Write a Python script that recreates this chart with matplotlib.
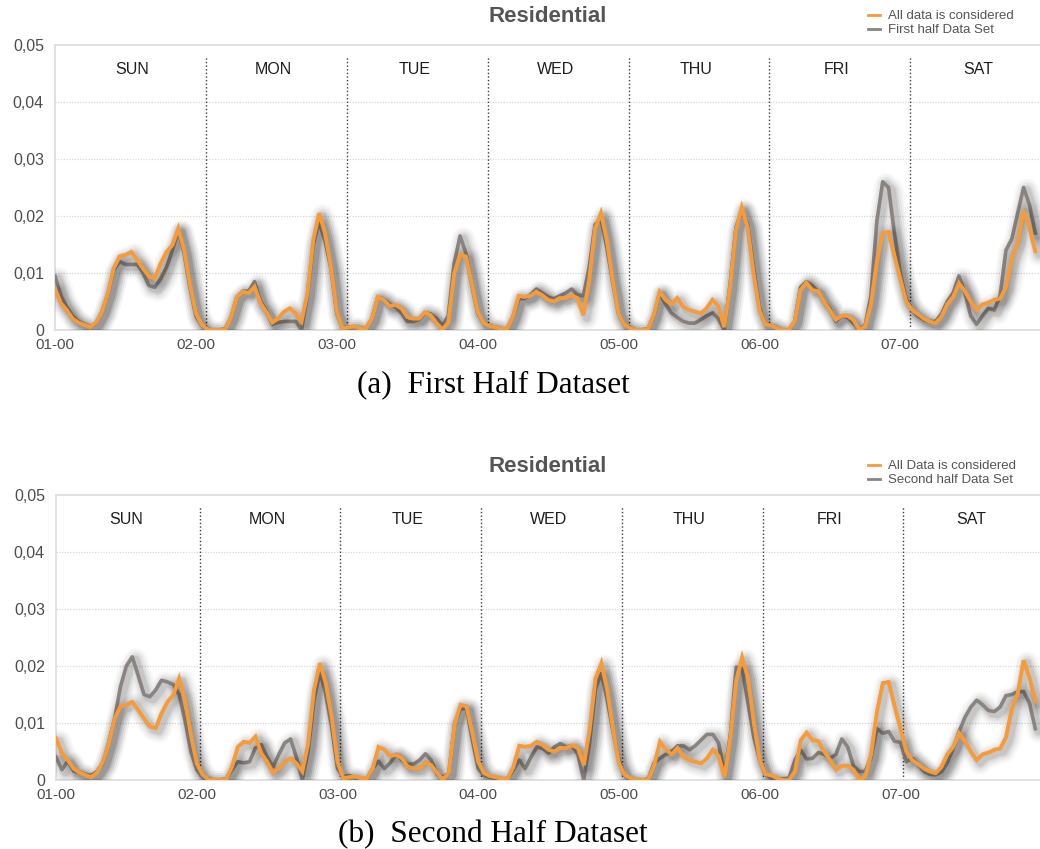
import numpy as np
import matplotlib
matplotlib.use("Agg")
import matplotlib.pyplot as plt
import matplotlib.patheffects as pe

# Hourly average load profile over one week (Sunday 00h .. Saturday 23h)
hours = np.arange(168)

all_data = [
    # SUN
    0.0073, 0.0047, 0.0035, 0.0020, 0.0013, 0.0009, 0.0005, 0.0013, 0.0032, 0.0064,
    0.0108, 0.0129, 0.0132, 0.0137, 0.0123, 0.0108, 0.0094, 0.0091, 0.0117, 0.0137,
    0.0149, 0.0178, 0.0140, 0.0079, 0.0029, 0.0009,
    # MON
    0.0001, 0.0000, 0.0000, 0.0001, 0.0023, 0.0058, 0.0067, 0.0065, 0.0076, 0.0047,
    0.0032, 0.0013, 0.0020, 0.0032, 0.0038, 0.0029, 0.0015, 0.0064, 0.0158, 0.0205,
    0.0170, 0.0111, 0.0032, 0.0003,
    # TUE
    0.0005, 0.0006, 0.0003, 0.0003, 0.0020, 0.0058, 0.0053, 0.0042, 0.0044, 0.0038,
    0.0023, 0.0020, 0.0020, 0.0031, 0.0026, 0.0012, 0.0001, 0.0013, 0.0099, 0.0132,
    0.0129, 0.0082, 0.0032, 0.0012,
    # WED
    0.0007, 0.0005, 0.0002, 0.0002, 0.0023, 0.0060, 0.0058, 0.0060, 0.0067, 0.0061,
    0.0053, 0.0050, 0.0056, 0.0056, 0.0061, 0.0056, 0.0026, 0.0088, 0.0178, 0.0205,
    0.0158, 0.0088, 0.0029, 0.0009,
    # THU
    0.0003, 0.0000, 0.0000, 0.0001, 0.0026, 0.0067, 0.0053, 0.0045, 0.0056, 0.0041,
    0.0035, 0.0032, 0.0029, 0.0038, 0.0053, 0.0042, 0.0005, 0.0075, 0.0175, 0.0215,
    0.0180, 0.0100, 0.0035, 0.0010,
    # FRI
    0.0008, 0.0003, 0.0000, 0.0000, 0.0015, 0.0070, 0.0083, 0.0070, 0.0068, 0.0050,
    0.0035, 0.0018, 0.0025, 0.0025, 0.0018, 0.0000, 0.0006, 0.0045, 0.0120, 0.0170,
    0.0172, 0.0130, 0.0090, 0.0050,
    # SAT
    0.0035, 0.0028, 0.0020, 0.0015, 0.0012, 0.0023, 0.0045, 0.0058, 0.0082, 0.0068,
    0.0050, 0.0035, 0.0045, 0.0048, 0.0053, 0.0055, 0.0075, 0.0125, 0.0152, 0.0210,
    0.0180, 0.0138,
]

first_half = [
    # SUN
    0.0095, 0.0060, 0.0040, 0.0025, 0.0015, 0.0010, 0.0005, 0.0012, 0.0032, 0.0063,
    0.0105, 0.0120, 0.0115, 0.0115, 0.0115, 0.0100, 0.0078, 0.0075, 0.0090, 0.0110,
    0.0140, 0.0175, 0.0135, 0.0075, 0.0025, 0.0008,
    # MON
    0.0001, 0.0000, 0.0000, 0.0002, 0.0023, 0.0058, 0.0068, 0.0068, 0.0085, 0.0050,
    0.0035, 0.0010, 0.0013, 0.0015, 0.0015, 0.0015, 0.0000, 0.0060, 0.0150, 0.0190,
    0.0155, 0.0110, 0.0030, 0.0004,
    # TUE
    0.0005, 0.0006, 0.0003, 0.0003, 0.0020, 0.0058, 0.0053, 0.0045, 0.0040, 0.0030,
    0.0015, 0.0015, 0.0018, 0.0030, 0.0028, 0.0020, 0.0008, 0.0025, 0.0117, 0.0165,
    0.0135, 0.0080, 0.0030, 0.0012,
    # WED
    0.0007, 0.0005, 0.0002, 0.0002, 0.0023, 0.0055, 0.0055, 0.0062, 0.0072, 0.0065,
    0.0058, 0.0055, 0.0060, 0.0065, 0.0072, 0.0062, 0.0060, 0.0110, 0.0185, 0.0195,
    0.0145, 0.0085, 0.0030, 0.0009,
    # THU
    0.0003, 0.0000, 0.0000, 0.0002, 0.0025, 0.0065, 0.0045, 0.0030, 0.0022, 0.0015,
    0.0012, 0.0012, 0.0018, 0.0025, 0.0030, 0.0020, 0.0000, 0.0080, 0.0180, 0.0210,
    0.0185, 0.0110, 0.0040, 0.0010,
    # FRI
    0.0008, 0.0003, 0.0000, 0.0000, 0.0015, 0.0075, 0.0085, 0.0078, 0.0068, 0.0050,
    0.0038, 0.0015, 0.0025, 0.0022, 0.0012, 0.0000, 0.0008, 0.0060, 0.0190, 0.0260,
    0.0250, 0.0170, 0.0100, 0.0055,
    # SAT
    0.0035, 0.0025, 0.0018, 0.0015, 0.0015, 0.0028, 0.0050, 0.0065, 0.0095, 0.0065,
    0.0025, 0.0010, 0.0025, 0.0038, 0.0035, 0.0060, 0.0140, 0.0160, 0.0205, 0.0250,
    0.0220, 0.0170,
]

second_half = [
    # SUN
    0.0040, 0.0018, 0.0033, 0.0016, 0.0013, 0.0010, 0.0008, 0.0015, 0.0030, 0.0066,
    0.0108, 0.0164, 0.0200, 0.0216, 0.0184, 0.0150, 0.0146, 0.0158, 0.0175, 0.0172,
    0.0167, 0.0150, 0.0105, 0.0050, 0.0018, 0.0005,
    # MON
    0.0002, 0.0000, 0.0000, 0.0002, 0.0018, 0.0032, 0.0030, 0.0032, 0.0056, 0.0062,
    0.0040, 0.0023, 0.0045, 0.0065, 0.0072, 0.0040, 0.0000, 0.0050, 0.0140, 0.0190,
    0.0150, 0.0094, 0.0020, 0.0006,
    # TUE
    0.0008, 0.0004, 0.0002, 0.0002, 0.0020, 0.0033, 0.0020, 0.0030, 0.0045, 0.0035,
    0.0028, 0.0028, 0.0035, 0.0046, 0.0035, 0.0010, 0.0005, 0.0012, 0.0100, 0.0125,
    0.0125, 0.0070, 0.0020, 0.0008,
    # WED
    0.0005, 0.0003, 0.0002, 0.0002, 0.0018, 0.0035, 0.0020, 0.0040, 0.0058, 0.0055,
    0.0047, 0.0058, 0.0064, 0.0058, 0.0060, 0.0045, 0.0000, 0.0065, 0.0160, 0.0187,
    0.0140, 0.0085, 0.0035, 0.0008,
    # THU
    0.0002, 0.0000, 0.0000, 0.0002, 0.0030, 0.0038, 0.0045, 0.0050, 0.0060, 0.0060,
    0.0053, 0.0060, 0.0070, 0.0080, 0.0080, 0.0065, 0.0010, 0.0080, 0.0198, 0.0195,
    0.0135, 0.0075, 0.0035, 0.0010,
    # FRI
    0.0003, 0.0002, 0.0002, 0.0003, 0.0035, 0.0052, 0.0037, 0.0038, 0.0048, 0.0045,
    0.0038, 0.0045, 0.0072, 0.0058, 0.0025, 0.0015, 0.0015, 0.0040, 0.0090, 0.0082,
    0.0085, 0.0068, 0.0066, 0.0032,
    # SAT
    0.0038, 0.0028, 0.0015, 0.0010, 0.0009, 0.0014, 0.0030, 0.0055, 0.0085, 0.0110,
    0.0128, 0.0140, 0.0132, 0.0122, 0.0120, 0.0128, 0.0148, 0.0150, 0.0155, 0.0155,
    0.0135, 0.0090,
]

day_names = ["SUN", "MON", "TUE", "WED", "THU", "FRI", "SAT"]
x_tick_labels = ["01-00", "02-00", "03-00", "04-00", "05-00", "06-00", "07-00"]
y_ticks = [0, 0.01, 0.02, 0.03, 0.04, 0.05]
y_tick_labels = ["0", "0,01", "0,02", "0,03", "0,04", "0,05"]

ORANGE = "#f79b38"
GREY = "#8a8480"
TEXT = "#4d4d4d"
FRAME = "#dedede"

plt.rcParams["font.family"] = ["Liberation Sans", "DejaVu Sans"]

W, H = 1040, 849
fig = plt.figure(figsize=(W / 100, H / 100), dpi=100)


def soft_shadow():
    """Blurred drop shadow built from stacked, widening translucent strokes."""
    effects = []
    for lw, alpha in [(17, 0.025), (14, 0.035), (11, 0.045), (8, 0.06), (5.5, 0.08)]:
        effects.append(pe.SimpleLineShadow(offset=(2.5, -2.0), shadow_color="black",
                                           alpha=alpha, linewidth=lw,
                                           joinstyle="round", capstyle="round"))
    effects.append(pe.Normal())
    return effects


def draw_panel(top_px, left_px, grey_series, grey_label, orange_label,
               divider_shift, caption):
    height_px = 285
    ax = fig.add_axes([left_px / W, 1 - (top_px + height_px) / H,
                       (W - left_px) / W, height_px / H])
    ax.set_xlim(0, 167.8)
    ax.set_ylim(0, 0.05)

    # light dotted horizontal grid
    for y in y_ticks[1:-1]:
        ax.axhline(y, color="#d9d9d9", lw=0.9, ls=(0, (1, 1.2)), zorder=1)

    # day separators
    for k in range(1, 7):
        ax.vlines(24 * k + divider_shift, 0, 0.048, colors="#3c3c3c",
                  lw=1.0, linestyles=(0, (1, 1.6)), zorder=2)

    # day names
    for k, name in enumerate(day_names):
        ax.text(24 * k + divider_shift + 11.5, 0.0457, name, ha="center",
                va="center", fontsize=11.5, color="#1e1e1e")

    g, = ax.plot(hours, grey_series, color=GREY, lw=2.6, zorder=3,
                 solid_joinstyle="round", path_effects=soft_shadow())
    o, = ax.plot(hours, all_data, color=ORANGE, lw=2.8, zorder=4,
                 solid_joinstyle="miter", path_effects=soft_shadow())

    ax.set_yticks(y_ticks)
    ax.set_yticklabels(y_tick_labels)
    ax.set_xticks(np.arange(0, 168, 24))
    ax.set_xticklabels(x_tick_labels)
    ax.tick_params(length=0, labelcolor=TEXT)
    ax.tick_params(axis="y", pad=8, labelsize=11.5)
    ax.tick_params(axis="x", pad=6, labelsize=11)

    for side in ("top", "left", "bottom"):
        ax.spines[side].set_color(FRAME)
        ax.spines[side].set_linewidth(1.3)
    ax.spines["right"].set_visible(False)

    fig.text(548 / W, 1 - (top_px - 28) / H, "Residential", ha="center",
             va="center", fontsize=16, fontweight="bold", color="#555555")

    leg = fig.legend([o, g], [orange_label, grey_label],
                     loc="upper left",
                     bbox_to_anchor=(868 / W, 1 - (top_px - 35) / H),
                     frameon=False, fontsize=9.5, labelcolor="#555555",
                     handlelength=0.9, handletextpad=0.6,
                     labelspacing=0.15, borderaxespad=0, borderpad=0)
    for line in leg.get_lines():
        line.set_linewidth(2.0)
        line.set_path_effects([])

    fig.text(493 / W, 1 - (top_px + height_px + 55) / H, caption,
             ha="center", va="center", fontsize=22.5,
             family=["Liberation Serif", "DejaVu Serif"], color="black")
    return ax


draw_panel(45, 55, first_half, "First half Data Set",
           "All data is considered", 1.7, "(a)  First Half Dataset")
draw_panel(495, 56, second_half, "Second half Data Set",
           "All Data is considered", 0.5, "(b)  Second Half Dataset")

fig.savefig("out.png", dpi=100, facecolor="white")
